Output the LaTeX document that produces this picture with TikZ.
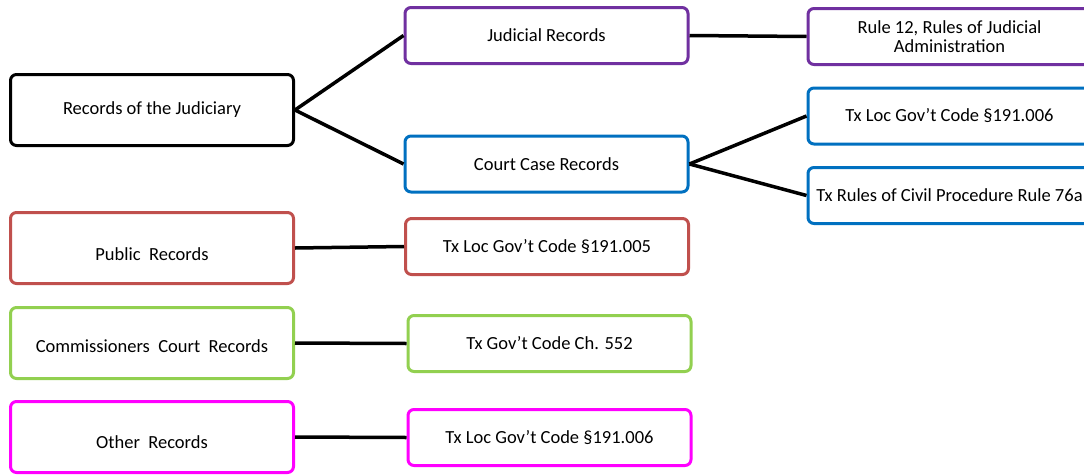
\documentclass[tikz,border=0pt]{standalone}
\usepackage{fontspec}
\setmainfont{Carlito}
\usetikzlibrary{positioning}
\definecolor{rootblack}{HTML}{000000}
\definecolor{judpurple}{HTML}{7030A0}
\definecolor{caseblue}{HTML}{0070C0}
\definecolor{pubred}{HTML}{C0504D}
\definecolor{comgreen}{HTML}{92D050}
\definecolor{othmagenta}{HTML}{FF00FF}
\tikzset{
  blk/.style={draw, rounded corners=6pt, line width=3pt, fill=white, align=center, inner sep=0pt,
    minimum width=283pt, minimum height=56pt, font=\fontsize{18.5}{19}\selectfont},
  blkk/.style={blk, draw=rootblack, minimum height=71pt},
  blkp/.style={blk, draw=judpurple},
  blkb/.style={blk, draw=caseblue},
  blkr/.style={blk, draw=pubred},
  blkg/.style={blk, draw=comgreen},
  blkm/.style={blk, draw=othmagenta},
  ln/.style={line width=3.5pt, draw=black},
}
\begin{document}
\begin{tikzpicture}[x=1pt, y=-1pt]
  \useasboundingbox (0,0) rectangle (1084,474);
  % left column
  \node[blkk] (root) at (152,110) {Records of the Judiciary};
  \node[blkr, minimum height=71pt, text height=25pt] (pub) at (152,248) {Public\ \ Records};
  \node[blkg, minimum height=71pt, text height=19pt] (com) at (152,343) {Commissioners\ \ Court\ \ Records};
  \node[blkm, minimum height=71pt, text height=23pt] (oth) at (152,437) {Other\ \ Records};
  % middle column
  \node[blkp] (jud) at (546.5,35.5) {Judicial Records};
  \node[blkb] (case) at (546.5,164) {Court Case Records};
  \node[blkr] (pubc) at (547,246.5) {Tx Loc Gov’t Code §191.005};
  \node[blkg] (comc) at (549.5,343.5) {Tx Gov’t Code Ch. 552};
  \node[blkm] (othc) at (549.5,437.5) {Tx Loc Gov’t Code §191.006};
  % right column
  \node[blkp] (rule) at (949.5,36.5) {Rule 12, Rules of Judicial\\Administration};
  \node[blkb] (loc) at (949.5,116) {Tx Loc Gov’t Code §191.006};
  \node[blkb] (civ) at (949.5,195.5) {Tx Rules of Civil Procedure Rule 76a};
  % connectors
  \draw[ln] (root.east) -- (jud.west);
  \draw[ln] (root.east) -- (case.west);
  \draw[ln] (jud.east) -- (rule.west);
  \draw[ln] (case.east) -- (loc.west);
  \draw[ln] (case.east) -- (civ.west);
  \draw[ln] (pub.east) -- (pubc.west);
  \draw[ln] (com.east) -- (comc.west);
  \draw[ln] (oth.east) -- (othc.west);
\end{tikzpicture}
\end{document}
